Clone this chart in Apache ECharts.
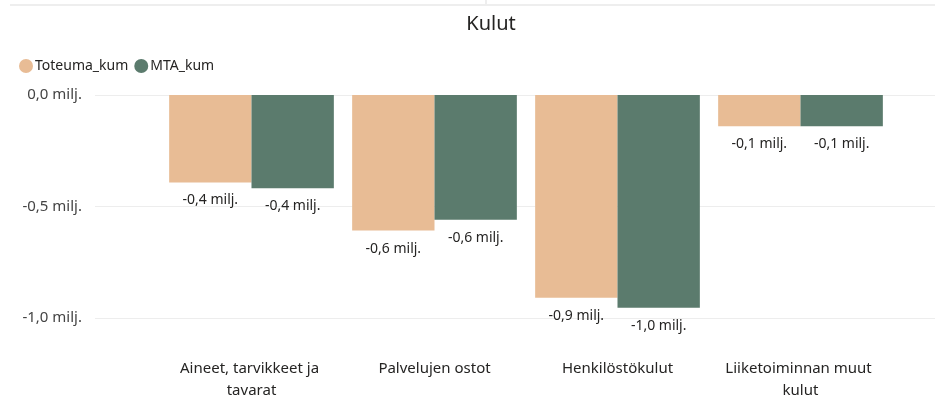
<!DOCTYPE html>
<html>
<head>
<meta charset="utf-8">
<script src="https://cdn.jsdelivr.net/npm/echarts@6/dist/echarts.min.js"></script>
<style>
  html, body { margin: 0; padding: 0; background: #fff; }
  #chart { width: 935px; height: 402px; }
</style>
</head>
<body>
<div id="chart"></div>
<script>
const categories = ["Aineet, tarvikkeet ja tavarat", "Palvelujen ostot", "Henkilöstökulut", "Liiketoiminnan muut kulut"];
const toteuma = [-0.399, -0.619, -0.926, -0.143];
const mta = [-0.426, -0.570, -0.971, -0.143];
const seriesNames = ["Toteuma_kum", "MTA_kum"];
const colors = ["#E8BC95", "#5B7B6D"];

const font = "'Noto Sans', sans-serif";
const fmt = v => v.toFixed(1).replace(".", ",").replace("-0,0", "0,0") + " milj.";

const chart = echarts.init(document.getElementById("chart"));

function barSeries(name, data, color) {
  return {
    name: name,
    type: "bar",
    xAxisIndex: 1,
    yAxisIndex: 1,
    data: data,
    barGap: "0%",
    barCategoryGap: "10%",
    itemStyle: { color: color },
    label: {
      show: true,
      position: "bottom",
      distance: 11,
      fontFamily: font,
      fontSize: 14,
      color: "#252423",
      formatter: p => fmt(p.value)
    }
  };
}

chart.setOption({
  animation: false,
  color: colors,
  title: {
    text: "Kulut",
    left: 486,
    textAlign: "center",
    top: 9,
    textStyle: { fontFamily: font, fontSize: 20, fontWeight: "normal", color: "#252423" }
  },
  legend: {
    left: 14,
    top: 54,
    icon: "circle",
    itemWidth: 14,
    itemHeight: 14,
    itemGap: 6,
    data: seriesNames,
    textStyle: { fontFamily: font, fontSize: 14, color: "#252423", padding: [0, 0, 0, -3] }
  },
  grid: [
    { left: 95, right: 0, top: 95, height: 223 },
    { left: 160, right: 43, top: 95, height: 223 }
  ],
  xAxis: [
    { gridIndex: 0, type: "value", show: false, min: 0, max: 1 },
    {
      gridIndex: 1,
      type: "category",
      data: categories,
      axisLine: { show: false },
      axisTick: { show: false },
      axisLabel: {
        margin: 44,
        fontFamily: font,
        fontSize: 15,
        color: "#252423",
        lineHeight: 22,
        width: 165,
        overflow: "break",
        interval: 0
      }
    }
  ],
  yAxis: [
    {
      gridIndex: 0,
      type: "value",
      min: -1,
      max: 0,
      interval: 0.5,
      axisLine: { show: false },
      axisTick: { show: false },
      splitLine: { lineStyle: { color: "#EDEDED", width: 1 } },
      axisLabel: { margin: 13, fontFamily: font, fontSize: 15, color: "#444", formatter: fmt }
    },
    { gridIndex: 1, type: "value", min: -1, max: 0, show: false }
  ],
  graphic: [
    { type: "line", shape: { x1: 10, y1: 5, x2: 935, y2: 5 }, style: { stroke: "#EEEEEE", lineWidth: 2 } },
    { type: "line", shape: { x1: 486, y1: 0, x2: 486, y2: 5 }, style: { stroke: "#EEEEEE", lineWidth: 2 } }
  ],
  series: [
    barSeries(seriesNames[0], toteuma, colors[0]),
    barSeries(seriesNames[1], mta, colors[1])
  ]
});
</script>
</body>
</html>
